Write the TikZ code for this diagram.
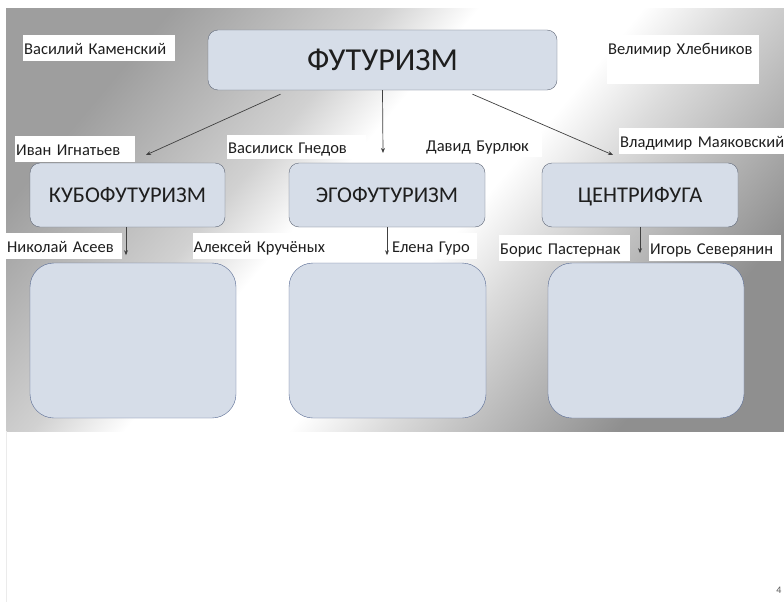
\documentclass[tikz,border=0pt]{standalone}
\usepackage{fontspec}
\setmainfont[WordSpace=0.8]{Carlito}
\usepackage{tikz}
\usetikzlibrary{positioning,calc,arrows.meta}
\definecolor{boxfill}{RGB}{214,221,232}
\definecolor{boxline}{RGB}{96,104,120}
\definecolor{lowline}{RGB}{88,106,146}
\definecolor{ink}{RGB}{30,30,30}
\pgfdeclarehorizontalshading{slidebg}{100bp}{color(0bp)=(black!38); color(32.9bp)=(black!38); color(42bp)=(black!18); color(46bp)=(white); color(53bp)=(white); color(57bp)=(black!14); color(67.1bp)=(black!44); color(100bp)=(black!44)}
\begin{document}
\begin{tikzpicture}[x=1pt,y=-1pt,
		box/.style={rectangle, draw=boxline, fill=boxfill, rounded corners=10pt, inner sep=0pt, text=ink, text depth=0pt},
		lowbox/.style={rectangle, draw=lowline, fill=boxfill, rounded corners=24pt, inner sep=0pt},
		lbl/.style={rectangle, fill=white, anchor=north west, align=left, inner xsep=1pt, inner ysep=2pt, text height=17pt, text depth=5pt, text=ink, font=\fontsize{16.5}{19}\selectfont},
		arr/.style={draw=black!75, line width=0.7pt, -{Stealth[length=5pt,width=4pt]}}]
			\useasboundingbox (0,0) rectangle (784,602);
			\fill[white] (0,0) rectangle (784,602);
			\begin{scope}
				\clip (6,9) rectangle (784,431);
				\shade[shading=slidebg, shading angle=-40] (-55,-230) rectangle (845,670);
			\end{scope}
			\draw[black!8, line width=1pt] (6,431) -- (6,602);
			\node[box, minimum width=349pt, minimum height=60pt, text height=20.5pt, font=\fontsize{32}{36}\selectfont] (f) at (382.5,60){ФУТУРИЗМ};
			\node[box, minimum width=195pt, minimum height=64pt, text height=14.5pt, font=\fontsize{22.5}{26}\selectfont] (kf) at (127.5,195){КУБОФУТУРИЗМ};
			\node[box, minimum width=196pt, minimum height=64pt, text height=14.5pt, font=\fontsize{22.5}{26}\selectfont] (ef) at (387,195){ЭГОФУТУРИЗМ};
			\node[box, minimum width=196pt, minimum height=64pt, text height=14.5pt, font=\fontsize{22.5}{26}\selectfont] (cf) at (640,195){ЦЕНТРИФУГА};
			\node[lowbox, minimum width=206pt, minimum height=155pt] (kl) at (133,340.5){};
			\node[lowbox, minimum width=197pt, minimum height=155pt] (el) at (387.5,340.5){};
			\node[lowbox, minimum width=196pt, minimum height=155pt] (cl) at (646,340.5){};
			\coordinate (ka) at (146,155);
			\coordinate (ea) at (383,153);
			\coordinate (ca) at (613,155);
			\draw[arr] ($(f.south)+(-102,4)$) -- (ka);
			\draw[arr] (f.south) -- (ea);
			\draw[arr] ($(f.south)+(90,4)$) -- (ca);
			\draw[arr] ($(kf.south)+(-1.5,0)$) -- ++(0,28);
			\draw[arr] (ef.south) -- ++(0,28);
			\draw[arr] (cf.south) -- ++(0,26);
			\node[lbl, text width=150pt] (vk) at (23,35){Василий Каменский};
			\node[lbl, text width=150pt, text depth=28pt] (vh) at (607,35){Велимир Хлебников};
			\node[lbl, text width=118pt] (ii) at (15,136){Иван Игнатьев};
			\node[lbl, text width=137pt, inner ysep=1pt] (vg) at (227,135){Василиск Гнедов};
			\node[lbl, text width=111pt, inner xsep=5pt, inner ysep=1pt] (db) at (421,133){Давид Бурлюк};
			\node[lbl, text width=172pt] (vm) at (619,128){Владимир Маяковский};
			\node[lbl, text width=114pt] (na) at (6,233){Николай Асеев};
			\node[lbl, text width=138pt, inner xsep=0.5pt] (ak) at (193,233){Алексей Кручёных};
			\node[lbl, text width=82pt, inner xsep=3pt] (eg) at (389,233){Елена Гуро};
			\node[lbl, text width=129pt] (bp) at (499,235){Борис Пастернак};
			\node[lbl, text width=130pt] (is) at (649,235){Игорь Северянин};
			\node[text=black!65, font=\fontsize{10}{12}\selectfont] (n) at (779,590){4};
		\end{tikzpicture}
\end{document}
